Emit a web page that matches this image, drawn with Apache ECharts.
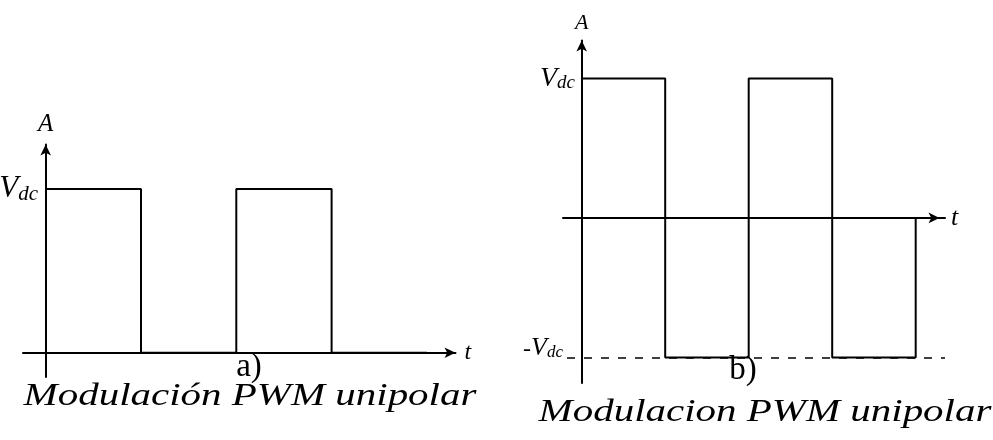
<!DOCTYPE html>
<html>
<head>
<meta charset="utf-8">
<script src="https://cdn.jsdelivr.net/npm/echarts@6/dist/echarts.min.js"></script>
<style>
  html, body { margin: 0; padding: 0; background: #fff; }
  #chart { width: 993px; height: 440px; }
</style>
</head>
<body>
<div id="chart"></div>
<script>
// Supply level (normalised)
const VDC = 1;

// Panel a: switching instants and the level held after each instant
const timesA = [0, 1, 2, 3, 4];
const levelsA = [1, 0, 1, 0];

// Panel b: switching instants, held levels, and the level after the last edge
const timesB = [0, 1, 2, 3, 4];
const levelsB = [1, -1, 1, -1];
const finalLevelB = 0;

// Values marked on the amplitude axes
const yMarksA = [VDC];
const yMarksB = [VDC, -VDC];

// Captions under each panel
const panelTags = ['a)', 'b)'];
const panelTitles = ['Modulación PWM unipolar', 'Modulacion PWM unipolar'];

const FONT = 'Liberation Serif';

// Turn edge times + held levels into the corner points of a square wave
function stepPoints(times, levels, finalLevel) {
  const pts = [];
  for (let i = 0; i < levels.length; i++) {
    pts.push([times[i], levels[i] * VDC]);
    pts.push([times[i + 1], levels[i] * VDC]);
  }
  if (finalLevel !== undefined) pts.push([times[times.length - 1], finalLevel * VDC]);
  return pts;
}

const lineBlack = { color: '#000', width: 2 };

function xAxisDef(gridIndex, min, max, nameSize, nameGap, arrowBack) {
  return {
    gridIndex, type: 'value', min, max,
    axisLine: {
      onZero: true, lineStyle: lineBlack,
      symbol: ['none', 'arrow'], symbolSize: [8, 11], symbolOffset: [0, arrowBack]
    },
    axisTick: { show: false },
    axisLabel: { show: false },
    splitLine: { show: false },
    name: 't', nameLocation: 'end', nameGap, nameMoveOverlap: false,
    nameTextStyle: { fontFamily: FONT, fontStyle: 'italic', fontSize: nameSize, color: '#000' }
  };
}

function yAxisDef(gridIndex, min, max, nameSize, nameGap, marks, margin, formatter, rich) {
  return {
    gridIndex, type: 'value', min, max,
    axisLine: { onZero: true, lineStyle: lineBlack, symbol: ['none', 'arrow'], symbolSize: [8, 11] },
    axisTick: { show: false },
    splitLine: { show: false },
    axisLabel: { show: true, customValues: marks, margin, formatter, rich, color: '#000' },
    name: 'A', nameLocation: 'end', nameGap, nameMoveOverlap: false,
    nameTextStyle: { fontFamily: FONT, fontStyle: 'italic', fontSize: nameSize, color: '#000', align: 'center' }
  };
}

const it = { fontFamily: FONT, fontStyle: 'italic', color: '#000', verticalAlign: 'bottom' };

const richA = {
  v: Object.assign({}, it, { fontSize: 31 }),
  s: Object.assign({}, it, { fontSize: 21 })
};
const richB = {
  v: Object.assign({}, it, { fontSize: 28 }),
  s: Object.assign({}, it, { fontSize: 19 }),
  m: Object.assign({}, it, { fontSize: 24, padding: [0, 0, 18, 0] }),
  nv: Object.assign({}, it, { fontSize: 26, padding: [0, 0, 18, 0] }),
  ns: Object.assign({}, it, { fontSize: 17, padding: [0, 12, 18, 0] })
};

const fmtA = () => '{v|V}{s|dc}';
const fmtB = (v) => (v < 0 ? '{m|-}{nv|V}{ns|dc}' : '{v|V}{s|dc}');

function caption(text, x, y, size, italic, scaleX) {
  return {
    type: 'text', x, y, scaleX: scaleX || 1,
    style: {
      text, x: 0, y: 0,
      fontFamily: FONT, fontSize: size, fontStyle: italic ? 'italic' : 'normal',
      fill: '#000', align: 'center', verticalAlign: 'middle'
    }
  };
}

const chart = echarts.init(document.getElementById('chart'), null, { renderer: 'canvas' });

chart.setOption({
  animation: false,
  backgroundColor: '#fff',
  grid: [
    { left: 23, right: 537.5, top: 144.5, bottom: 63, outerBoundsMode: 'none' },
    { left: 563, right: 48, top: 40.5, bottom: 57, outerBoundsMode: 'none' }
  ],
  xAxis: [
    xAxisDef(0, -0.238, 4.300, 24, 9, 0),
    xAxisDef(1, -0.224, 4.351, 26, 6, -5.5)
  ],
  yAxis: [
    yAxisDef(0, -0.148, 1.272, 25, 8, yMarksA, -15, fmtA, richA),
    yAxisDef(1, -1.183, 1.272, 22, 6, yMarksB, -12, fmtB, richB)
  ],
  series: [
    {
      type: 'line', xAxisIndex: 0, yAxisIndex: 0,
      data: stepPoints(timesA, levelsA),
      symbol: 'none', lineStyle: lineBlack, z: 3
    },
    {
      type: 'line', xAxisIndex: 1, yAxisIndex: 1,
      data: stepPoints(timesB, levelsB, finalLevelB),
      symbol: 'none', lineStyle: lineBlack, z: 3,
      markLine: {
        silent: true, symbol: ['none', 'none'],
        label: { show: false },
        lineStyle: { color: '#000', width: 1.5, type: [8, 9], dashOffset: 13 },
        emphasis: { disabled: true },
        data: [{ yAxis: -VDC }]
      }
    }
  ],
  graphic: [
    caption(panelTags[0], 249, 367, 33, false),
    caption(panelTags[1], 743, 370, 33, false),
    caption(panelTitles[0], 250, 397, 32, true, 1.28),
    caption(panelTitles[1], 765, 413, 32, true, 1.28)
  ]
});
</script>
</body>
</html>
